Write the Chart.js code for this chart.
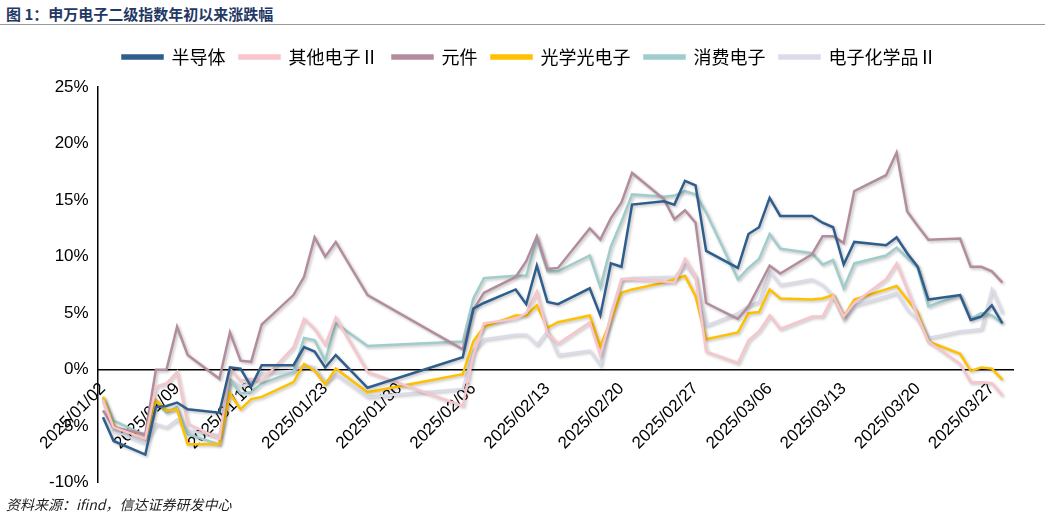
<!DOCTYPE html>
<html>
<head>
<meta charset="utf-8">
<script src="https://cdn.jsdelivr.net/npm/chart.js@4"></script>
<style>
    body { margin: 0; background: #fff; font-family: "Liberation Sans", Arial, sans-serif; }
    #titulo { position: absolute; left: 6px; top: 3px; font: bold 15px "Noto Sans CJK SC"; color: #1f3864; }
    #linha { position: absolute; left: 0; top: 24px; width: 1045px; border-top: 1px solid #999; }
    #fonte { position: absolute; left: 6px; top: 494px; font: italic 14px "Noto Sans CJK SC"; color: #222; }
    #box { position: absolute; left: 0; top: 28px; width: 1035px; height: 468px; }
</style>
</head>
<body>
<div id="titulo">图 1：申万电子二级指数年初以来涨跌幅</div>
<div id="linha"></div>
<div id="box"><canvas id="grafico"></canvas></div>
<div id="fonte">资料来源：ifind，信达证券研发中心</div>
<script>
// dias corridos desde 2025/01/02 (apenas pregões)
const dias = [0,1,4,5,6,7,8,11,12,13,14,15,18,19,20,21,22,25,
    34,35,36,39,40,41,42,43,46,47,48,49,50,53,54,55,56,57,
    60,61,62,63,64,67,68,69,70,71,74,75,76,77,78,81,82,83,84,85];

const semicondutor = [-4.2,-6.3,-7.5,-3.3,-3.2,-2.9,-3.5,-3.8,0.2,0.1,-1.5,0.4,0.4,2.0,1.6,0.2,1.3,-1.6,
    1.1,5.4,5.9,7.1,5.8,9.2,6.0,5.8,7.2,4.8,9.4,9.1,14.6,14.9,14.6,16.7,16.3,10.5,
    9.0,12.0,12.6,15.2,13.6,13.6,13.0,12.6,9.3,11.3,11.0,11.7,10.3,9.1,6.2,6.6,4.4,4.7,5.7,4.1];
const outrosEletronicos = [-2.7,-5.1,-6.1,-1.5,-1.2,-0.2,-4.8,-6.1,0.1,-1.0,-0.8,-1.0,2.0,4.5,3.6,2.2,4.6,-0.2,
    -3.2,1.3,4.1,4.5,5.0,6.9,3.2,2.3,4.2,1.3,4.7,8.0,8.0,7.8,7.7,9.8,8.2,1.6,
    0.6,2.6,3.4,4.8,3.6,4.7,4.7,6.5,4.7,5.9,8.0,9.4,7.1,4.7,2.5,0.5,-1.1,-1.1,-1.2,-2.3];
const componentes = [-3.6,-5.1,-5.7,0.0,0.0,3.8,1.3,-0.8,3.3,0.8,0.7,4.0,6.6,8.2,11.7,10.0,11.3,6.6,
    1.8,5.3,6.8,8.2,9.6,11.8,8.9,9.0,12.5,11.5,13.4,14.8,17.4,15.1,13.3,14.1,13.0,5.9,
    4.5,5.6,7.4,9.2,8.5,10.2,11.8,11.8,11.2,15.8,17.2,19.2,14.0,12.7,11.5,11.6,9.1,9.1,8.7,7.7];
const optico = [-2.4,-5.0,-6.1,-2.7,-3.6,-3.5,-6.6,-6.6,-2.1,-3.5,-2.6,-2.4,-1.1,0.5,-0.1,-1.3,0.1,-2.0,
    -0.4,2.5,3.8,4.8,4.8,5.7,3.7,4.2,4.8,2.1,4.4,6.8,7.1,7.7,8.0,8.3,6.5,2.7,
    3.3,5.0,5.1,7.1,6.3,6.2,6.3,6.6,4.7,6.2,7.1,7.4,6.2,5.0,2.5,1.4,-0.1,0.2,0.1,-0.9];
const consumo = [-2.4,-4.5,-5.8,-2.7,-3.8,-3.3,-5.7,-6.6,-0.9,-2.1,-2.0,-1.2,-0.2,2.8,2.6,0.8,4.1,2.1,
    2.5,6.3,8.1,8.3,8.3,11.6,8.7,8.7,10.1,7.3,10.9,13.1,15.5,15.3,15.4,15.8,15.5,13.9,
    8.0,9.0,9.8,12.0,10.7,10.3,9.3,9.7,7.2,9.4,10.1,10.8,9.9,9.0,5.6,6.6,4.5,5.0,4.8,4.1];
const quimicos = [-2.7,-5.4,-6.5,-4.8,-5.1,-4.4,-5.4,-5.8,-0.9,-1.5,-1.1,-0.3,-0.1,0.4,0.2,-1.1,-0.4,-2.4,
    -1.7,1.7,2.7,3.1,3.1,2.2,3.4,1.3,1.7,0.4,5.0,8.0,8.1,8.2,8.2,9.3,8.1,3.9,
    5.0,5.7,6.0,8.7,7.5,8.0,7.5,6.5,4.4,5.7,6.5,6.8,5.3,4.4,2.8,3.4,3.5,3.6,7.1,5.0];

const nomes = ["半导体", "其他电子Ⅱ", "元件", "光学光电子", "消费电子", "电子化学品Ⅱ"];
const series = [semicondutor, outrosEletronicos, componentes, optico, consumo, quimicos];
const cores = ["#2f5d8c", "#f7c5cb", "#b38d9e", "#ffc000", "#a0cccb", "#dcdbea"];
const ticksX = [0, 7, 14, 21, 28, 35, 42, 49, 56, 63, 70, 77, 84];

const inicio = new Date(2025, 0, 2);
function formatarData(d) {
    const dt = new Date(inicio.getTime() + d * 86400000);
    const mm = String(dt.getMonth() + 1).padStart(2, "0");
    const dd = String(dt.getDate()).padStart(2, "0");
    return `2025/${mm}/${dd}`;
}

// sombra leve nas linhas
const sombra = {
    id: "sombra",
    beforeDatasetsDraw(chart) {
        const ctx = chart.ctx;
        ctx.save();
        ctx.shadowColor = "rgba(0,0,0,0.25)";
        ctx.shadowBlur = 3;
        ctx.shadowOffsetX = 1.5;
        ctx.shadowOffsetY = 1.5;
    },
    afterDatasetsDraw(chart) {
        chart.ctx.restore();
    }
};

// espaço extra abaixo da legenda
const espacoLegenda = {
    id: "espacoLegenda",
    beforeInit(chart) {
        const fitOriginal = chart.legend.fit;
        chart.legend.fit = function () {
            fitOriginal.bind(chart.legend)();
            this.height += 11;
        };
    }
};

const datasets = nomes.map((nome, i) => ({
    label: nome,
    data: dias.map((d, j) => ({ x: d, y: series[i][j] })),
    borderColor: cores[i],
    backgroundColor: cores[i],
    borderWidth: 2.5,
    pointRadius: 0,
    tension: 0
}));

new Chart(document.getElementById("grafico"), {
    type: "line",
    data: { datasets: datasets },
    options: {
        responsive: true,
        maintainAspectRatio: false,
        animation: false,
        layout: { padding: { left: 46, right: 22, top: 6, bottom: 0 } },
        plugins: {
            legend: {
                position: "top",
                labels: {
                    boxWidth: 40,
                    boxHeight: 3,
                    padding: 14,
                    color: "#000",
                    font: { size: 18, family: "Noto Sans CJK SC" }
                }
            },
            tooltip: { enabled: false }
        },
        scales: {
            x: {
                type: "linear",
                position: { y: 0 },
                min: -0.5,
                max: 86,
                afterBuildTicks: axis => { axis.ticks = ticksX.map(v => ({ value: v })); },
                grid: { display: false, drawTicks: true, tickLength: 6, tickColor: "#000" },
                border: { color: "#000", width: 1.5 },
                ticks: {
                    minRotation: 45,
                    maxRotation: 45,
                    autoSkip: false,
                    color: "#000",
                    font: { size: 17, family: "Liberation Sans" },
                    callback: v => formatarData(v)
                }
            },
            y: {
                min: -10,
                max: 25,
                grid: { display: false, tickLength: 6, tickColor: "#000" },
                border: { color: "#000", width: 1.5 },
                ticks: {
                    stepSize: 5,
                    color: "#000",
                    font: { size: 17, family: "Liberation Sans" },
                    callback: v => v + "%"
                }
            }
        }
    },
    plugins: [sombra, espacoLegenda]
});
</script>
</body>
</html>
